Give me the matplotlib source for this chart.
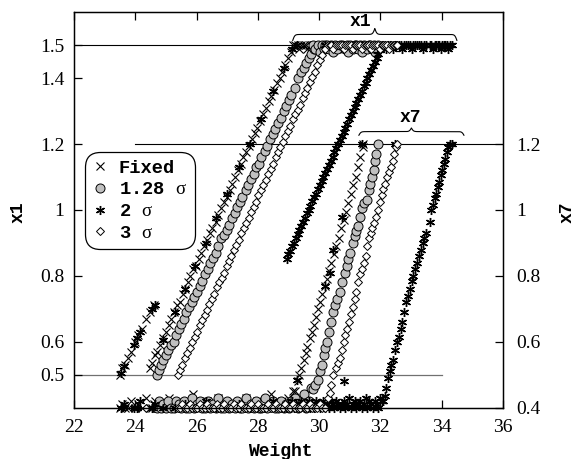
import numpy as np
import matplotlib
matplotlib.use("Agg")
import matplotlib.pyplot as plt
from matplotlib.ticker import FixedLocator, FixedFormatter

plt.rcParams['font.family'] = 'serif'
plt.rcParams['font.serif'] = ['Liberation Serif']
plt.rcParams['mathtext.fontset'] = 'custom'
plt.rcParams['mathtext.rm'] = 'Liberation Serif'

MONO = 'Liberation Mono'

# --- Fixed : x1 rising part (x7 sits on its lower bound) ---
fixed_w_a = [23.50, 23.58, 23.66, 23.75, 23.85, 23.98, 24.10, 24.22, 24.35, 24.48,
             24.60,
             24.48, 24.55, 24.65, 24.72, 24.80, 24.92, 25.00, 25.10, 25.18, 25.27,
             25.36, 25.45, 25.55, 25.63, 25.72, 25.80, 25.90, 25.98, 26.07, 26.16,
             26.25, 26.35, 26.44, 26.52, 26.62, 26.70, 26.80, 26.90, 26.98, 27.08,
             27.17, 27.26, 27.35, 27.45, 27.53, 27.62, 27.72, 27.80, 27.90, 27.98,
             28.08, 28.17, 28.26, 28.35, 28.44, 28.53, 28.62, 28.71, 28.80, 28.90,
             28.98, 29.07, 29.15]
fixed_x1_a = [0.50, 0.52, 0.53, 0.55, 0.57, 0.60, 0.62, 0.64, 0.67, 0.69,
              0.71,
              0.52, 0.535, 0.56, 0.57, 0.59, 0.61, 0.63, 0.65, 0.67, 0.69,
              0.71, 0.72, 0.745, 0.76, 0.78, 0.80, 0.82, 0.83, 0.85, 0.87,
              0.89, 0.91, 0.93, 0.945, 0.965, 0.985, 1.005, 1.025, 1.04, 1.06,
              1.08, 1.10, 1.12, 1.14, 1.16, 1.175, 1.195, 1.215, 1.235, 1.25,
              1.27, 1.29, 1.31, 1.33, 1.345, 1.365, 1.385, 1.40, 1.42, 1.44,
              1.46, 1.48, 1.50]
fixed_x7_a = [0.40, 0.41, 0.40, 0.40, 0.42, 0.40, 0.41, 0.40, 0.43, 0.40,
              0.41,
              0.40, 0.40, 0.42, 0.40, 0.41, 0.40, 0.40, 0.43, 0.40, 0.41,
              0.40, 0.42, 0.40, 0.40, 0.41, 0.40, 0.44, 0.40, 0.41, 0.40,
              0.40, 0.42, 0.40, 0.41, 0.40, 0.43, 0.40, 0.40, 0.41, 0.40,
              0.42, 0.40, 0.41, 0.40, 0.40, 0.43, 0.40, 0.41, 0.40, 0.42,
              0.40, 0.40, 0.41, 0.40, 0.44, 0.40, 0.41, 0.40, 0.42, 0.40,
              0.43, 0.41, 0.45]

# --- Fixed : x7 rising part (x1 sits on its upper bound) ---
fixed_w_b = [29.22, 29.30, 29.36, 29.42, 29.50, 29.56, 29.62, 29.70, 29.76, 29.83,
             29.90, 29.97, 30.04, 30.10, 30.18, 30.25, 30.32, 30.40, 30.48, 30.56,
             30.64, 30.72, 30.80, 30.88, 30.96, 31.04, 31.12, 31.20, 31.28, 31.35,
             31.42, 31.45]
fixed_x7_b = [0.45, 0.48, 0.50, 0.52, 0.545, 0.565, 0.585, 0.61, 0.63, 0.65,
              0.675, 0.70, 0.72, 0.745, 0.77, 0.79, 0.815, 0.84, 0.865, 0.89,
              0.915, 0.945, 0.97, 0.995, 1.02, 1.05, 1.075, 1.10, 1.13, 1.16,
              1.19, 1.20]
fixed_x1_b = [1.50, 1.50, 1.49, 1.50, 1.50, 1.50, 1.49, 1.50, 1.50, 1.50,
              1.50, 1.49, 1.50, 1.50, 1.50, 1.50, 1.49, 1.50, 1.50, 1.50,
              1.50, 1.50, 1.49, 1.50, 1.50, 1.50, 1.50, 1.49, 1.50, 1.50,
              1.50, 1.50]

# --- 1.28 sigma ---
s128_w_a = [24.70, 24.76, 24.84, 24.92, 25.00, 25.08, 25.16, 25.25, 25.33, 25.42,
            25.50, 25.58, 25.67, 25.75, 25.84, 25.92, 26.00, 26.10, 26.18, 26.27,
            26.36, 26.45, 26.54, 26.62, 26.71, 26.80, 26.89, 26.98, 27.06, 27.15,
            27.24, 27.33, 27.42, 27.50, 27.60, 27.68, 27.77, 27.86, 27.95, 28.04,
            28.12, 28.22, 28.30, 28.40, 28.48, 28.57, 28.66, 28.75, 28.84, 28.92,
            29.02, 29.10, 29.20, 29.30, 29.40, 29.50, 29.58, 29.66, 29.74, 29.82]
s128_x1_a = [0.50, 0.515, 0.53, 0.545, 0.56, 0.575, 0.59, 0.60, 0.62, 0.64,
             0.655, 0.67, 0.69, 0.705, 0.72, 0.735, 0.75, 0.77, 0.785, 0.805,
             0.82, 0.84, 0.855, 0.87, 0.89, 0.915, 0.925, 0.94, 0.955, 0.975,
             0.99, 1.01, 1.025, 1.04, 1.06, 1.075, 1.095, 1.11, 1.13, 1.14,
             1.16, 1.18, 1.195, 1.215, 1.23, 1.245, 1.265, 1.28, 1.30, 1.315,
             1.335, 1.35, 1.37, 1.40, 1.42, 1.43, 1.445, 1.46, 1.475, 1.49]
s128_x7_a = [0.40, 0.42, 0.40, 0.41, 0.40, 0.42, 0.40, 0.40, 0.42, 0.41,
             0.40, 0.42, 0.40, 0.40, 0.43, 0.40, 0.41, 0.42, 0.40, 0.40,
             0.42, 0.40, 0.41, 0.40, 0.43, 0.40, 0.40, 0.42, 0.40, 0.41,
             0.40, 0.42, 0.40, 0.40, 0.43, 0.40, 0.41, 0.40, 0.42, 0.40,
             0.40, 0.43, 0.40, 0.41, 0.42, 0.40, 0.40, 0.42, 0.40, 0.41,
             0.40, 0.42, 0.43, 0.40, 0.41, 0.44, 0.40, 0.42, 0.46, 0.41]
s128_w_b = [29.80, 29.88, 29.97, 30.03, 30.08, 30.15, 30.20, 30.25, 30.32, 30.38,
            30.44, 30.52, 30.60, 30.68, 30.76, 30.84, 30.90, 30.96, 31.02, 31.10,
            31.17, 31.22, 31.28, 31.34, 31.40, 31.48, 31.56, 31.62, 31.66, 31.72,
            31.78, 31.82, 31.86, 31.92]
s128_x7_b = [0.455, 0.47, 0.485, 0.51, 0.53, 0.56, 0.58, 0.60, 0.63, 0.66,
             0.69, 0.71, 0.73, 0.75, 0.78, 0.81, 0.83, 0.85, 0.87, 0.90,
             0.92, 0.935, 0.95, 0.98, 1.005, 1.02, 1.03, 1.06, 1.08, 1.10,
             1.12, 1.15, 1.17, 1.20]
s128_x1_b = [1.50, 1.49, 1.50, 1.48, 1.50, 1.49, 1.50, 1.50, 1.49, 1.50,
             1.48, 1.50, 1.49, 1.50, 1.50, 1.49, 1.50, 1.48, 1.50, 1.49,
             1.50, 1.50, 1.49, 1.50, 1.48, 1.50, 1.49, 1.50, 1.50, 1.49,
             1.50, 1.48, 1.49, 1.50]

# --- 2 sigma ---
s2_w_a = [28.94, 29.00, 29.06, 29.12, 29.18, 29.24, 29.30, 29.36, 29.42, 29.48,
          29.54, 29.60, 29.66, 29.72, 29.78, 29.84, 29.90, 29.96, 30.02, 30.08,
          30.14, 30.20, 30.26, 30.32, 30.38, 30.44, 30.50, 30.56, 30.62, 30.68,
          30.74, 30.80, 30.86, 30.92, 30.98, 31.04, 31.10, 31.16, 31.22, 31.28,
          31.34, 31.40, 31.46, 31.52, 31.58, 31.64, 31.70, 31.76, 31.82, 31.88,
          31.94, 32.00, 32.06]
s2_x1_a = [0.852, 0.865, 0.877, 0.89, 0.90, 0.914, 0.926, 0.938, 0.95, 0.963,
           0.975, 0.99, 1.00, 1.013, 1.026, 1.038, 1.05, 1.063, 1.075, 1.088,
           1.10, 1.112, 1.125, 1.137, 1.15, 1.162, 1.175, 1.187, 1.20, 1.212,
           1.225, 1.237, 1.25, 1.262, 1.275, 1.287, 1.30, 1.312, 1.325, 1.337,
           1.35, 1.362, 1.375, 1.387, 1.40, 1.412, 1.425, 1.437, 1.45, 1.462,
           1.475, 1.487, 1.50]
s2_x7_a = [0.40, 0.41, 0.40, 0.42, 0.40, 0.41, 0.40, 0.40, 0.42, 0.41,
           0.40, 0.41, 0.42, 0.40, 0.41, 0.40, 0.42, 0.41, 0.40, 0.41,
           0.42, 0.40, 0.41, 0.40, 0.42, 0.41, 0.40, 0.42, 0.41, 0.40,
           0.41, 0.42, 0.40, 0.41, 0.43, 0.40, 0.41, 0.42, 0.40, 0.41,
           0.42, 0.40, 0.41, 0.43, 0.40, 0.42, 0.41, 0.40, 0.42, 0.41,
           0.40, 0.43, 0.42]
s2_w_b = [32.10, 32.15, 32.20, 32.25, 32.30, 32.36, 32.42, 32.48, 32.53, 32.60,
          32.66, 32.72, 32.78, 32.84, 32.90, 32.96, 33.02, 33.08, 33.14, 33.20,
          33.26, 33.32, 33.38, 33.44, 33.50, 33.62, 33.67, 33.72, 33.77, 33.82,
          33.87, 33.92, 33.97, 34.02, 34.07, 34.12, 34.17, 34.22, 34.27, 34.35]
s2_x7_b = [0.42, 0.435, 0.46, 0.49, 0.51, 0.53, 0.545, 0.575, 0.60, 0.615,
           0.64, 0.66, 0.69, 0.72, 0.74, 0.76, 0.785, 0.80, 0.82, 0.84,
           0.86, 0.88, 0.90, 0.915, 0.93, 0.965, 1.00, 1.015, 1.035, 1.05,
           1.07, 1.085, 1.105, 1.12, 1.14, 1.155, 1.175, 1.19, 1.20, 1.20]
s2_x1_b = [1.50, 1.50, 1.49, 1.50, 1.50, 1.50, 1.49, 1.50, 1.50, 1.50,
           1.50, 1.49, 1.50, 1.50, 1.50, 1.50, 1.49, 1.50, 1.50, 1.50,
           1.50, 1.50, 1.49, 1.50, 1.50, 1.50, 1.50, 1.49, 1.50, 1.50,
           1.50, 1.50, 1.49, 1.50, 1.50, 1.50, 1.50, 1.49, 1.50, 1.50]
# runs that landed on the Fixed solution
s2_w_c = [23.52, 23.62, 23.95, 24.05, 24.15, 24.56, 24.63, 24.90, 25.30, 25.62,
          25.95, 26.30, 26.65, 27.00, 27.40, 27.75, 28.10, 28.50, 28.85, 29.12]
s2_x1_c = [0.505, 0.525, 0.59, 0.61, 0.63, 0.70, 0.71, 0.605, 0.69, 0.76,
           0.83, 0.90, 0.975, 1.05, 1.13, 1.20, 1.275, 1.36, 1.43, 1.49]
s2_x7_c = [0.40, 0.41, 0.40, 0.40, 0.42, 0.40, 0.41, 0.40, 0.40, 0.41,
           0.40, 0.42, 0.40, 0.40, 0.41, 0.40, 0.40, 0.42, 0.40, 0.41]
s2_w_d = [29.27, 30.20, 30.35, 30.46, 30.74, 31.40, 30.80, 32.47]
s2_x7_d = [0.485, 0.77, 0.81, 0.88, 0.98, 1.20, 0.48, 1.20]
s2_x1_d = [1.50, 1.50, 1.50, 1.50, 1.50, 1.50, 1.50, 1.50]

# --- 3 sigma ---
s3_w_a = [25.40, 25.46, 25.54, 25.62, 25.70, 25.78, 25.86, 25.94, 26.02, 26.10,
          26.18, 26.26, 26.34, 26.42, 26.50, 26.58, 26.66, 26.74, 26.82, 26.90,
          26.98, 27.06, 27.14, 27.22, 27.30, 27.38, 27.46, 27.54, 27.62, 27.70,
          27.78, 27.86, 27.94, 28.02, 28.10, 28.18, 28.26, 28.34, 28.42, 28.50,
          28.58, 28.66, 28.74, 28.82, 28.90, 28.98, 29.06, 29.14, 29.22, 29.30,
          29.38, 29.46, 29.54, 29.62, 29.70, 29.78, 29.86, 29.94, 30.02, 30.10,
          30.18]
s3_x1_a = [0.50, 0.515, 0.53, 0.55, 0.565, 0.58, 0.60, 0.615, 0.63, 0.65,
           0.665, 0.68, 0.695, 0.715, 0.73, 0.745, 0.765, 0.78, 0.795, 0.81,
           0.83, 0.845, 0.86, 0.88, 0.895, 0.91, 0.93, 0.945, 0.96, 0.975,
           0.995, 1.01, 1.025, 1.045, 1.06, 1.075, 1.09, 1.11, 1.125, 1.14,
           1.16, 1.175, 1.19, 1.205, 1.225, 1.24, 1.255, 1.275, 1.29, 1.305,
           1.32, 1.34, 1.355, 1.37, 1.39, 1.405, 1.42, 1.44, 1.455, 1.47,
           1.49]
s3_x7_a = [0.40, 0.40, 0.41, 0.40, 0.40, 0.41, 0.40, 0.40, 0.40, 0.41,
           0.40, 0.40, 0.41, 0.40, 0.40, 0.40, 0.41, 0.40, 0.40, 0.41,
           0.40, 0.40, 0.40, 0.41, 0.40, 0.40, 0.41, 0.40, 0.40, 0.40,
           0.41, 0.40, 0.40, 0.41, 0.40, 0.40, 0.40, 0.41, 0.40, 0.40,
           0.41, 0.40, 0.40, 0.40, 0.41, 0.40, 0.40, 0.41, 0.40, 0.40,
           0.40, 0.41, 0.40, 0.40, 0.41, 0.40, 0.40, 0.40, 0.41, 0.40,
           0.40]
s3_w_b = [30.30, 30.35, 30.40, 30.45, 30.55, 30.62, 30.68, 30.74, 30.80, 30.86,
          30.92, 30.98, 31.04, 31.10, 31.16, 31.22, 31.28, 31.34, 31.40, 31.46,
          31.52, 31.56, 31.62, 31.68, 31.74, 31.80, 31.86, 31.92, 31.98, 32.04,
          32.10, 32.16, 32.22, 32.28, 32.34, 32.40, 32.46, 32.50, 32.53]
s3_x7_b = [0.43, 0.445, 0.47, 0.50, 0.52, 0.535, 0.55, 0.575, 0.60, 0.62,
           0.64, 0.66, 0.685, 0.705, 0.73, 0.75, 0.78, 0.805, 0.82, 0.84,
           0.86, 0.89, 0.915, 0.93, 0.945, 0.96, 0.98, 1.00, 1.025, 1.045,
           1.065, 1.08, 1.10, 1.115, 1.13, 1.15, 1.17, 1.19, 1.20]
s3_x1_b = [1.50, 1.50, 1.50, 1.49, 1.50, 1.50, 1.50, 1.50, 1.49, 1.50,
           1.50, 1.50, 1.50, 1.49, 1.50, 1.50, 1.50, 1.50, 1.49, 1.50,
           1.50, 1.50, 1.50, 1.49, 1.50, 1.50, 1.50, 1.50, 1.49, 1.50,
           1.50, 1.50, 1.50, 1.49, 1.50, 1.50, 1.50, 1.50, 1.50]

left_ticks = [0.5, 0.6, 0.8, 1.0, 1.2, 1.4, 1.5]
left_labels = ['0.5', '0.6', '0.8', '1', '1.2', '1.4', '1.5']
right_ticks = [0.4, 0.6, 0.8, 1.0, 1.2]
right_labels = ['0.4', '0.6', '0.8', '1', '1.2']
x_ticks = [22, 24, 26, 28, 30, 32, 34, 36]

fig = plt.figure(figsize=(5.74, 4.59), dpi=100)
ax = fig.add_axes([0.129, 0.112, 0.747, 0.861])
ax.set_xlim(22, 36)
ax.set_ylim(0.4, 1.6)

# bound lines
ax.plot([22, 29.2], [1.5, 1.5], color='black', lw=0.8, zorder=1)
ax.plot([24.0, 36], [1.2, 1.2], color='black', lw=0.8, zorder=1)
ax.plot([22, 34.0], [0.5, 0.5], color='#707070', lw=0.9, zorder=1)

st_fixed = dict(marker='x', ms=5.5, mew=0.8, color='black', ls='none', clip_on=False)
st_128 = dict(marker='o', ms=6.5, mew=0.7, mfc='#c0c0c0', mec='black', ls='none', clip_on=False)
st_2 = dict(marker=(6, 2, 0), ms=6.5, mew=1.0, color='black', ls='none', clip_on=False)
st_3 = dict(marker='D', ms=4, mew=0.7, mfc='white', mec='black', ls='none', clip_on=False)

h_fixed, = ax.plot(fixed_w_a, fixed_x1_a, **st_fixed)
ax.plot(fixed_w_a, fixed_x7_a, **st_fixed)
ax.plot(fixed_w_b, fixed_x1_b, **st_fixed)
ax.plot(fixed_w_b, fixed_x7_b, **st_fixed)

h_128, = ax.plot(s128_w_a, s128_x1_a, **st_128)
ax.plot(s128_w_a, s128_x7_a, **st_128)
ax.plot(s128_w_b, s128_x1_b, **st_128)
ax.plot(s128_w_b, s128_x7_b, **st_128)

h_2, = ax.plot(s2_w_a, s2_x1_a, **st_2)
ax.plot(s2_w_a, s2_x7_a, **st_2)
ax.plot(s2_w_b, s2_x1_b, **st_2)
ax.plot(s2_w_b, s2_x7_b, **st_2)
ax.plot(s2_w_c, s2_x1_c, **st_2)
ax.plot(s2_w_c, s2_x7_c, **st_2)
ax.plot(s2_w_d, s2_x1_d, **st_2)
ax.plot(s2_w_d, s2_x7_d, **st_2)

h_3, = ax.plot(s3_w_a, s3_x1_a, **st_3)
ax.plot(s3_w_a, s3_x7_a, **st_3)
ax.plot(s3_w_b, s3_x1_b, **st_3)
ax.plot(s3_w_b, s3_x7_b, **st_3)


def brace(ax, xa, xb, y0, k, beta=30):
    """curly brace opening downwards, ends at y0, tip at y0 + k"""
    xs = np.linspace(xa, xb, 401)
    half = xs[:201]
    yh = (1 / (1 + np.exp(-beta * (half - half[0])))
          + 1 / (1 + np.exp(-beta * (half - half[-1]))))
    ys = np.concatenate((yh, yh[-2::-1]))
    ax.plot(xs, y0 + (ys - 0.5) * k, color='black', lw=0.8, clip_on=False)


brace(ax, 29.14, 34.5, 1.515, 0.036)
brace(ax, 31.3, 34.73, 1.227, 0.022)
ax.text(31.35, 1.572, 'x1', family=MONO, weight='bold', fontsize=13,
        ha='center', va='center')
ax.text(32.97, 1.28, 'x7', family=MONO, weight='bold', fontsize=13,
        ha='center', va='center')

ax.xaxis.set_major_locator(FixedLocator(x_ticks))
ax.yaxis.set_major_locator(FixedLocator(left_ticks))
ax.yaxis.set_major_formatter(FixedFormatter(left_labels))
ax.tick_params(direction='in', length=6, width=0.9, top=True, labelsize=14, pad=7)
ax.tick_params(axis='x', pad=8)
for sp in ax.spines.values():
    sp.set_linewidth(1.0)

ax2 = ax.twinx()
ax2.set_ylim(0.4, 1.6)
ax2.yaxis.set_major_locator(FixedLocator(right_ticks))
ax2.yaxis.set_major_formatter(FixedFormatter(right_labels))
ax2.tick_params(direction='in', length=6, width=0.9, labelsize=14, pad=10)

fig.text(18 / 574, 1 - 212 / 459, 'x1', family=MONO, weight='bold', fontsize=13,
         rotation=90, ha='center', va='center')
fig.text(567 / 574, 1 - 212 / 459, 'x7', family=MONO, weight='bold', fontsize=13,
         rotation=90, ha='center', va='center')
fig.text(280 / 574, 1 - 451 / 459, 'Weight', family=MONO, weight='bold', fontsize=13,
         ha='center', va='center')

leg = ax2.legend([h_fixed, h_128, h_2, h_3],
                 ['Fixed', r'1.28 $\mathrm{\sigma}$', r'2 $\mathrm{\sigma}$', r'3 $\mathrm{\sigma}$'],
                 loc='upper left', bbox_to_anchor=(0.026, 0.647), borderaxespad=0,
                 prop={'family': MONO, 'weight': 'bold', 'size': 13.5},
                 handlelength=0.8, handletextpad=0.6, labelspacing=0.25,
                 borderpad=0.4, frameon=True, fancybox=True, framealpha=1,
                 edgecolor='black')
leg.get_frame().set_linewidth(0.9)
leg.get_frame().set_boxstyle('round,pad=0,rounding_size=0.8')

fig.savefig('out.png', dpi=100)
